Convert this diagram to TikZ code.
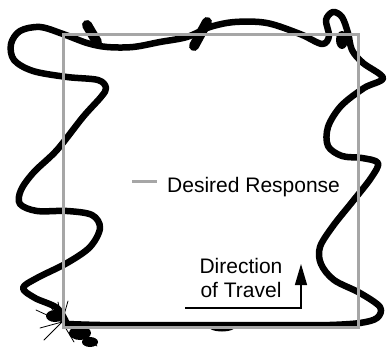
\documentclass[tikz,border=0pt]{standalone}
\usepackage{fontspec}
\setmainfont{Liberation Sans}
\usetikzlibrary{arrows.meta,positioning}

\begin{document}
\begin{tikzpicture}[x=1pt,y=-1pt,font=\fontsize{21}{24}\selectfont,
  ink/.style={line width=6.5pt,line cap=round,line join=round},
  blob/.style={line width=10pt,line cap=round},
  spray/.style={line width=0.8pt,line cap=round},
  target/.style={draw=black!35,line width=3pt},
  lbl/.style={inner sep=0pt,align=center},
  arr/.style={-{Triangle[length=21pt,width=12pt]},line width=1.3pt}]
\useasboundingbox (0,0) rectangle (389,348);
% measured path of the vehicle
\draw[ink] plot[smooth,tension=0.55] coordinates {
  (67,324) (57,308) (35,298) (23,288) (37,278) (67,263) (90,247) (100,228)
  (92,215) (67,211) (37,211) (20,204) (21,190) (34,172) (57,150) (83,117)
  (101,97) (106,88) (98,80) (67,77) (33,71) (14,60) (11,44) (20,31) (40,27)
  (63,34) (87,43) (107,47) (133,47) (160,42) (187,37) (210,27) (235,22)
  (267,23) (300,34) (322,44) (329,36) (326,20) (333,12) (342,17) (348,33)
  (352,50) (363,63) (383,78) (364,88) (341,106) (328,127) (328,146) (342,156)
  (362,158) (378,163) (371,178) (353,201) (333,226) (320,247) (321,264)
  (334,280) (360,293) (380,307) (377,318) (360,323) (330,325) (300,325)
  (260,325) (220,325) (180,325) (140,325) (100,325) (67,324)};
\draw[blob] (87,25) -- (97,42);
\draw[blob] (194,46) -- (207,22);
\fill (222,327) ellipse [x radius=13pt,y radius=4.5pt];
\fill (342,40) ellipse [x radius=6pt,y radius=9pt];
% splatter at the start
\fill (55,316) ellipse [x radius=9pt,y radius=6pt];
\fill (80,333) ellipse [x radius=11pt,y radius=7pt];
\fill (90,342) ellipse [x radius=8pt,y radius=5pt];
\foreach \a/\b in {36/310,44/340,58/302,68/301,40/328,50/306,97/346,74/342}
  \draw[spray] (62,322) -- (\a,\b);
% desired response
\draw[target] (63,34) rectangle (358,327);
\coordinate (legA) at (132,181);
\coordinate (legB) at (157,181);
\draw[target] (legA) -- (legB);
\node[lbl,anchor=base west] (resp) at (167,192) {Desired Response};
% direction of travel
\node[lbl] (travel) at (241,277.5) {Direction\\of Travel};
\coordinate (tailA) at (185,308);
\coordinate (tipA) at (301,264);
\draw[arr] (tailA) -| (tipA);
\end{tikzpicture}
\end{document}
